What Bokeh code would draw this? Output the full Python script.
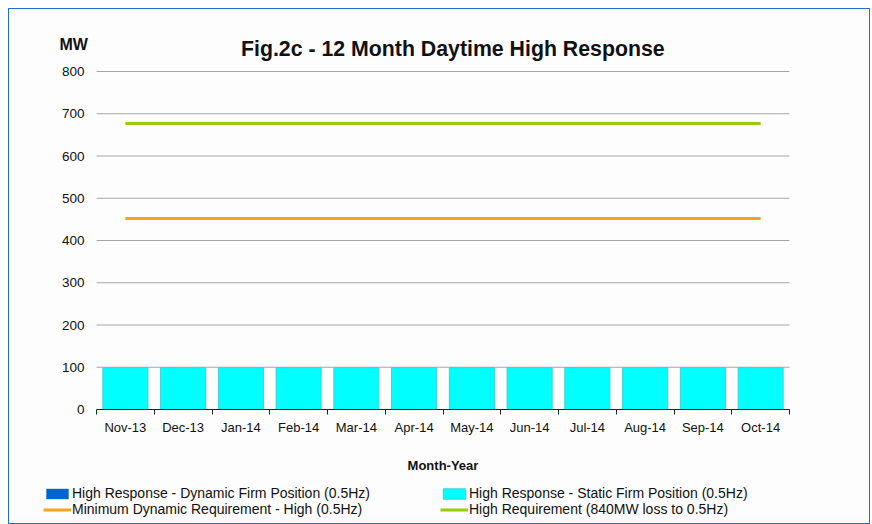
from bokeh.plotting import figure
from bokeh.models import (ColumnDataSource, FixedTicker, Label, Legend, LegendItem,
                          Range1d)
from bokeh.embed import file_html
from bokeh.resources import INLINE

months = ["Nov-13", "Dec-13", "Jan-14", "Feb-14", "Mar-14", "Apr-14",
          "May-14", "Jun-14", "Jul-14", "Aug-14", "Sep-14", "Oct-14"]
dynamic_firm = [0, 0, 0, 0, 0, 0, 0, 0, 0, 0, 0, 0]
static_firm = [99, 99, 99, 99, 99, 99, 99, 99, 99, 99, 99, 99]
min_dynamic_req = [452, 452, 452, 452, 452, 452, 452, 452, 452, 452, 452, 452]
high_req = [677, 677, 677, 677, 677, 677, 677, 677, 677, 677, 677, 677]
y_ticks = [0, 100, 200, 300, 400, 500, 600, 700, 800]

# ---- layout (pixels of the page) ----
FIG_W, FIG_H = 862, 516
CONT_L, CONT_T = 9, 9            # canvas origin on page (inside 1px border)
CONT_W, CONT_H = FIG_W, FIG_H
PLOT_L, PLOT_R = 96, 789         # inner plot area on page
PLOT_T, PLOT_B = 71, 409
Y_MIN, Y_MAX = y_ticks[0], y_ticks[-1]
X_MIN, X_MAX = 0.5, len(months) + 0.5

kx = (PLOT_R - PLOT_L) / (X_MAX - X_MIN)
ky = (PLOT_B - PLOT_T) / (Y_MAX - Y_MIN)
x_start = X_MIN - (PLOT_L - CONT_L) / kx
x_end = x_start + CONT_W / kx
y_end = Y_MAX + (PLOT_T - CONT_T) / ky
y_start = y_end - CONT_H / ky
CONT_B = CONT_T + CONT_H

pos = list(range(1, len(months) + 1))
src = ColumnDataSource(dict(
    x=pos, dyn=dynamic_firm, stat=static_firm,
    top=[d + s for d, s in zip(dynamic_firm, static_firm)],
    mind=min_dynamic_req, high=high_req))

FONT = "Liberation Sans"
BG = "#fdfdfd"
TXT = "#111111"

p = figure(width=FIG_W, height=FIG_H, output_backend="svg", toolbar_location=None,
           x_range=Range1d(x_start, x_end), y_range=Range1d(y_start, y_end),
           min_border=0, min_border_left=0, min_border_right=0, min_border_top=0,
           min_border_bottom=0, background_fill_color=BG, border_fill_color=BG)
p.styles = {"border": "1px solid #1f6fd0", "margin-left": "8px", "margin-top": "8px"}
p.outline_line_color = None
p.xgrid.visible = False
p.ygrid.visible = False

# horizontal grid lines at the y ticks, across the category span
p.segment(x0=X_MIN, x1=X_MAX, y0=y_ticks[1:], y1=y_ticks[1:],
          line_color="#a6a6a6", line_width=1)

r_dyn = p.vbar(x="x", bottom=0, top="dyn", width=0.78, source=src,
               fill_color="#0066CC", line_color=None)
r_stat = p.vbar(x="x", bottom="dyn", top="top", width=0.78, source=src,
                fill_color="#00FFFF", line_color="#40d0d0", line_width=1)
r_min = p.line(x="x", y="mind", source=src, line_color="#F7A21B", line_width=3)
r_high = p.line(x="x", y="high", source=src, line_color="#99CC00", line_width=3)

# x axis drawn at y = 0
xa = p.xaxis[0]
xa.fixed_location = Y_MIN
xa.bounds = (X_MIN, X_MAX)
xa.ticker = FixedTicker(ticks=pos, minor_ticks=[i + 0.5 for i in range(len(months) + 1)])
xa.major_label_overrides = {i: m for i, m in zip(pos, months)}
xa.major_tick_line_color = None
xa.major_tick_out = 0
xa.major_tick_in = 0
xa.minor_tick_out = 5
xa.minor_tick_in = 0
xa.minor_tick_line_color = "#222222"
xa.axis_line_color = "#222222"
xa.major_label_standoff = 5
xa.major_label_text_font = FONT
xa.major_label_text_font_size = "13px"
xa.major_label_text_color = TXT
xa.axis_label = "Month-Year"
xa.axis_label_text_font = FONT
xa.axis_label_text_font_size = "13px"
xa.axis_label_text_font_style = "bold"
xa.axis_label_text_color = TXT
xa.axis_label_standoff = 20

# y axis drawn at the left edge of the category span
ya = p.yaxis[0]
ya.fixed_location = X_MIN
ya.bounds = (Y_MIN, Y_MAX)
ya.ticker = FixedTicker(ticks=y_ticks)
ya.axis_line_color = None
ya.major_tick_line_color = None
ya.major_tick_out = 0
ya.major_tick_in = 0
ya.minor_tick_line_color = None
ya.major_label_standoff = 12
ya.major_label_text_font = FONT
ya.major_label_text_font_size = "13.5px"
ya.major_label_text_color = TXT

p.add_layout(Label(x=240.5 - CONT_L, y=CONT_B - 48, x_units="screen", y_units="screen",
                   text="Fig.2c - 12 Month Daytime High Response", text_align="left",
                   text_baseline="alphabetic", text_font=FONT, text_font_size="21.3px",
                   text_font_style="bold", text_color=TXT))
p.add_layout(Label(x=59 - CONT_L, y=CONT_B - 44, x_units="screen", y_units="screen",
                   text="MW", text_align="left", text_baseline="alphabetic",
                   text_font=FONT, text_font_size="16px", text_font_style="bold",
                   text_color=TXT))

legend = Legend(items=[
    LegendItem(label="High Response - Dynamic Firm Position (0.5Hz)", renderers=[r_dyn]),
    LegendItem(label="High Response - Static Firm Position (0.5Hz)", renderers=[r_stat]),
    LegendItem(label="Minimum Dynamic Requirement - High (0.5Hz)", renderers=[r_min]),
    LegendItem(label="High Requirement (840MW loss to 0.5Hz)", renderers=[r_high]),
], orientation="horizontal", ncols=2, location=(43 - CONT_L, CONT_B - 517),
    glyph_width=28, glyph_height=13, label_height=16, label_width=368,
    label_standoff=1, spacing=0, padding=0, margin=0, background_fill_alpha=0,
    border_line_color=None, label_text_font=FONT, label_text_font_size="14px",
    label_text_color=TXT)
p.add_layout(legend)

open("out.html", "w").write(file_html(p, INLINE))
